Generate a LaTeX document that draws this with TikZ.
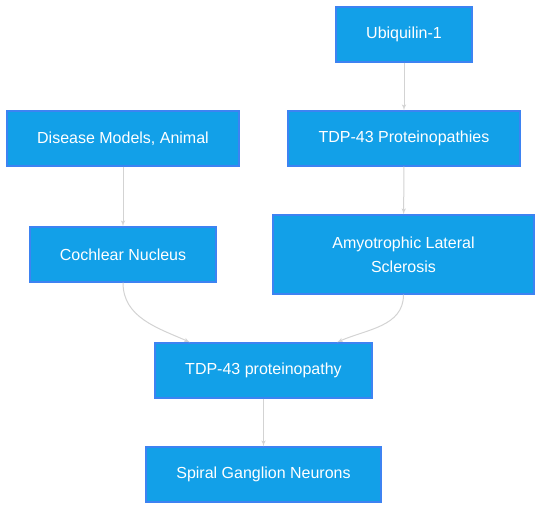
\documentclass[tikz,border=0pt]{standalone}
\usepackage{fontspec}
\setmainfont{Liberation Sans}
\usetikzlibrary{shapes}
\usetikzlibrary{arrows}

\definecolor{boxfill}{HTML}{12A0E8}
\definecolor{boxline}{HTML}{3D83F2}
\definecolor{edgegray}{HTML}{D3D3D3}

\begin{document}
\begin{tikzpicture}[x=1pt, y=1pt]

  \tikzset{term/.style = {shape=rectangle, draw=boxline, fill=boxfill, line width=1.4pt,
      text=white, minimum height=55pt, align=center, font=\fontsize{16}{24}\selectfont}}
  \tikzset{edge/.style = {->, > = latex', draw=edgegray, line width=1pt}}
  \useasboundingbox (0,0) rectangle (542,510);
  % terms
  \node[term, minimum width=136pt] (ubq)  at (404,475.5)   {Ubiquilin-1};
  \node[term, minimum width=232pt] (dma)  at (123,371.5)   {Disease Models, Animal};
  \node[term, minimum width=232pt] (tdps) at (404,371.5)   {TDP-43 Proteinopathies};
  \node[term, minimum width=186pt] (cn)   at (123,255.5)   {Cochlear Nucleus};
  \node[term, minimum width=261pt, minimum height=79pt] (als) at (403.5,255.5)
       {Amyotrophic Lateral\\Sclerosis};
  \node[term, minimum width=217pt] (tdp)  at (263.5,139.5) {TDP-43 proteinopathy};
  \node[term, minimum width=235pt] (sgn)  at (263.5,35.5)  {Spiral Ganglion Neurons};
  %edges
  \draw[edge] (ubq) -- (tdps);
  \draw[edge] (tdps) -- (als);
  \draw[edge] (dma) -- (cn);
  \draw[edge] (cn.south) to[out=-90, in=156] ([xshift=-73.5pt]tdp.north);
  \draw[edge] (als.south) to[out=-90, in=24] ([xshift=73.5pt]tdp.north);
  \draw[edge] (tdp) -- (sgn);
\end{tikzpicture}
\end{document}
